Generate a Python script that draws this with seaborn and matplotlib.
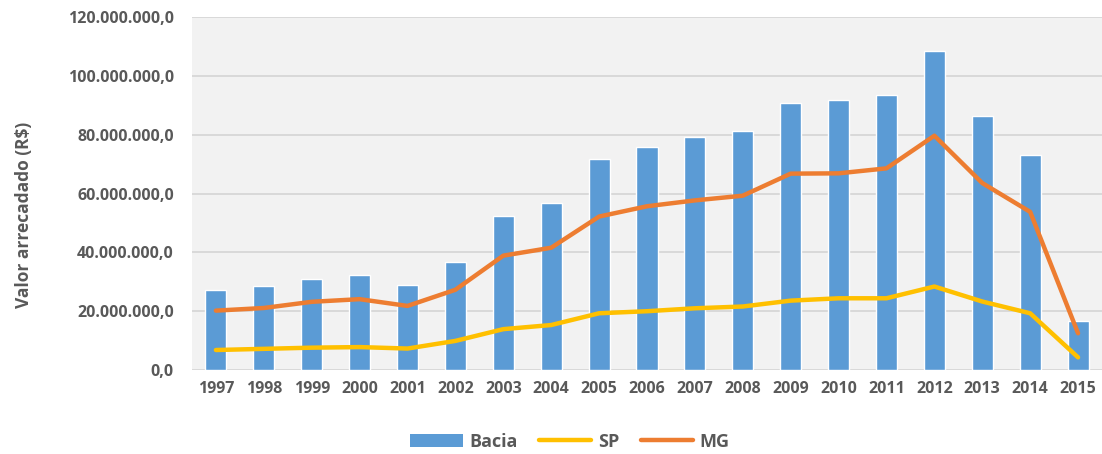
import matplotlib
matplotlib.use("Agg")
import matplotlib.pyplot as plt
from matplotlib.patches import Patch
from matplotlib.lines import Line2D
from matplotlib.ticker import FuncFormatter
import numpy as np
import pandas as pd
import seaborn as sns

# Arrecadação anual (R$)
anos = [str(a) for a in range(1997, 2016)]
bacia = [27.3e6, 28.6e6, 30.9e6, 32.3e6, 29.0e6, 36.9e6, 52.5e6, 56.9e6, 71.7e6, 76.0e6,
         79.2e6, 81.2e6, 90.9e6, 91.8e6, 93.4e6, 108.5e6, 86.3e6, 73.1e6, 16.6e6]
sp = [6.8e6, 7.2e6, 7.6e6, 7.8e6, 7.3e6, 9.9e6, 13.9e6, 15.3e6, 19.3e6, 20.0e6,
      21.0e6, 21.6e6, 23.6e6, 24.4e6, 24.4e6, 28.4e6, 23.3e6, 19.3e6, 4.3e6]
mg = [20.2e6, 21.1e6, 23.2e6, 24.1e6, 21.8e6, 27.3e6, 38.9e6, 41.6e6, 52.2e6, 55.7e6,
      57.7e6, 59.3e6, 66.8e6, 66.9e6, 68.6e6, 79.7e6, 63.6e6, 53.8e6, 12.5e6]
rotulos = ["Bacia", "SP", "MG"]

AZUL, AMARELO, LARANJA = "#5B9BD5", "#FFC000", "#ED7D31"
CINZA_TXT = "#595959"

sns.set_theme(style="white")
plt.rcParams["font.family"] = ["Open Sans", "DejaVu Sans"]
plt.rcParams["font.weight"] = "bold"

df = pd.DataFrame({"ano": anos, "Bacia": bacia, "SP": sp, "MG": mg})
df["pos"] = np.arange(len(anos))

fig = plt.figure(figsize=(11.02, 4.54), dpi=100)
ax = fig.add_axes([0.1742, 0.185, 0.8258, 0.777])
ax.set_facecolor("#F2F2F2")

sns.barplot(data=df, x="ano", y="Bacia", color=AZUL, width=0.44, saturation=1,
            ax=ax, zorder=3)
sns.lineplot(data=df, x="pos", y="SP", color=AMARELO, linewidth=3.2, ax=ax, zorder=4)
sns.lineplot(data=df, x="pos", y="MG", color=LARANJA, linewidth=3.2, ax=ax, zorder=5)
for ln in ax.lines:
    ln.set_solid_capstyle("round")
    ln.set_solid_joinstyle("round")

ax.set_xlim(-0.5, len(anos) - 0.5)
ax.set_ylim(0, 120e6)
ax.set_yticks(np.arange(0, 120e6 + 1, 20e6))
ax.set_xticks(df["pos"])
ax.set_xticklabels(anos)

def fmt_br(v, _):
    s = f"{v:,.1f}"
    return s.replace(",", "X").replace(".", ",").replace("X", ".")

ax.yaxis.set_major_formatter(FuncFormatter(fmt_br))
ax.grid(axis="y", color="#D9D9D9", linewidth=1.4, zorder=0)
ax.set_axisbelow(True)
for s in ax.spines.values():
    s.set_visible(False)

ax.tick_params(axis="both", length=0, labelsize=11.5, labelcolor=CINZA_TXT)
ax.tick_params(axis="y", pad=13)
ax.tick_params(axis="x", pad=8)
for t in ax.get_xticklabels() + ax.get_yticklabels():
    t.set_fontweight("bold")

ax.set_xlabel("")
ax.set_ylabel("Valor arrecadado (R$)", fontsize=12.5, fontweight="bold",
              color=CINZA_TXT)
ax.yaxis.set_label_coords(-0.175, 0.441)

handles = [Patch(facecolor=AZUL, edgecolor="none"),
           Line2D([0], [0], color=AMARELO, linewidth=3.2, solid_capstyle="round"),
           Line2D([0], [0], color=LARANJA, linewidth=3.2, solid_capstyle="round")]
leg = fig.legend(handles, rotulos, loc="center", bbox_to_anchor=(0.517, 0.027),
                 ncol=3, frameon=False, handlelength=2.9, handleheight=0.75,
                 handletextpad=0.35, columnspacing=1.2,
                 prop={"size": 13, "weight": "bold"})
for t in leg.get_texts():
    t.set_color(CINZA_TXT)

fig.savefig("out.png", dpi=100, facecolor="white")
